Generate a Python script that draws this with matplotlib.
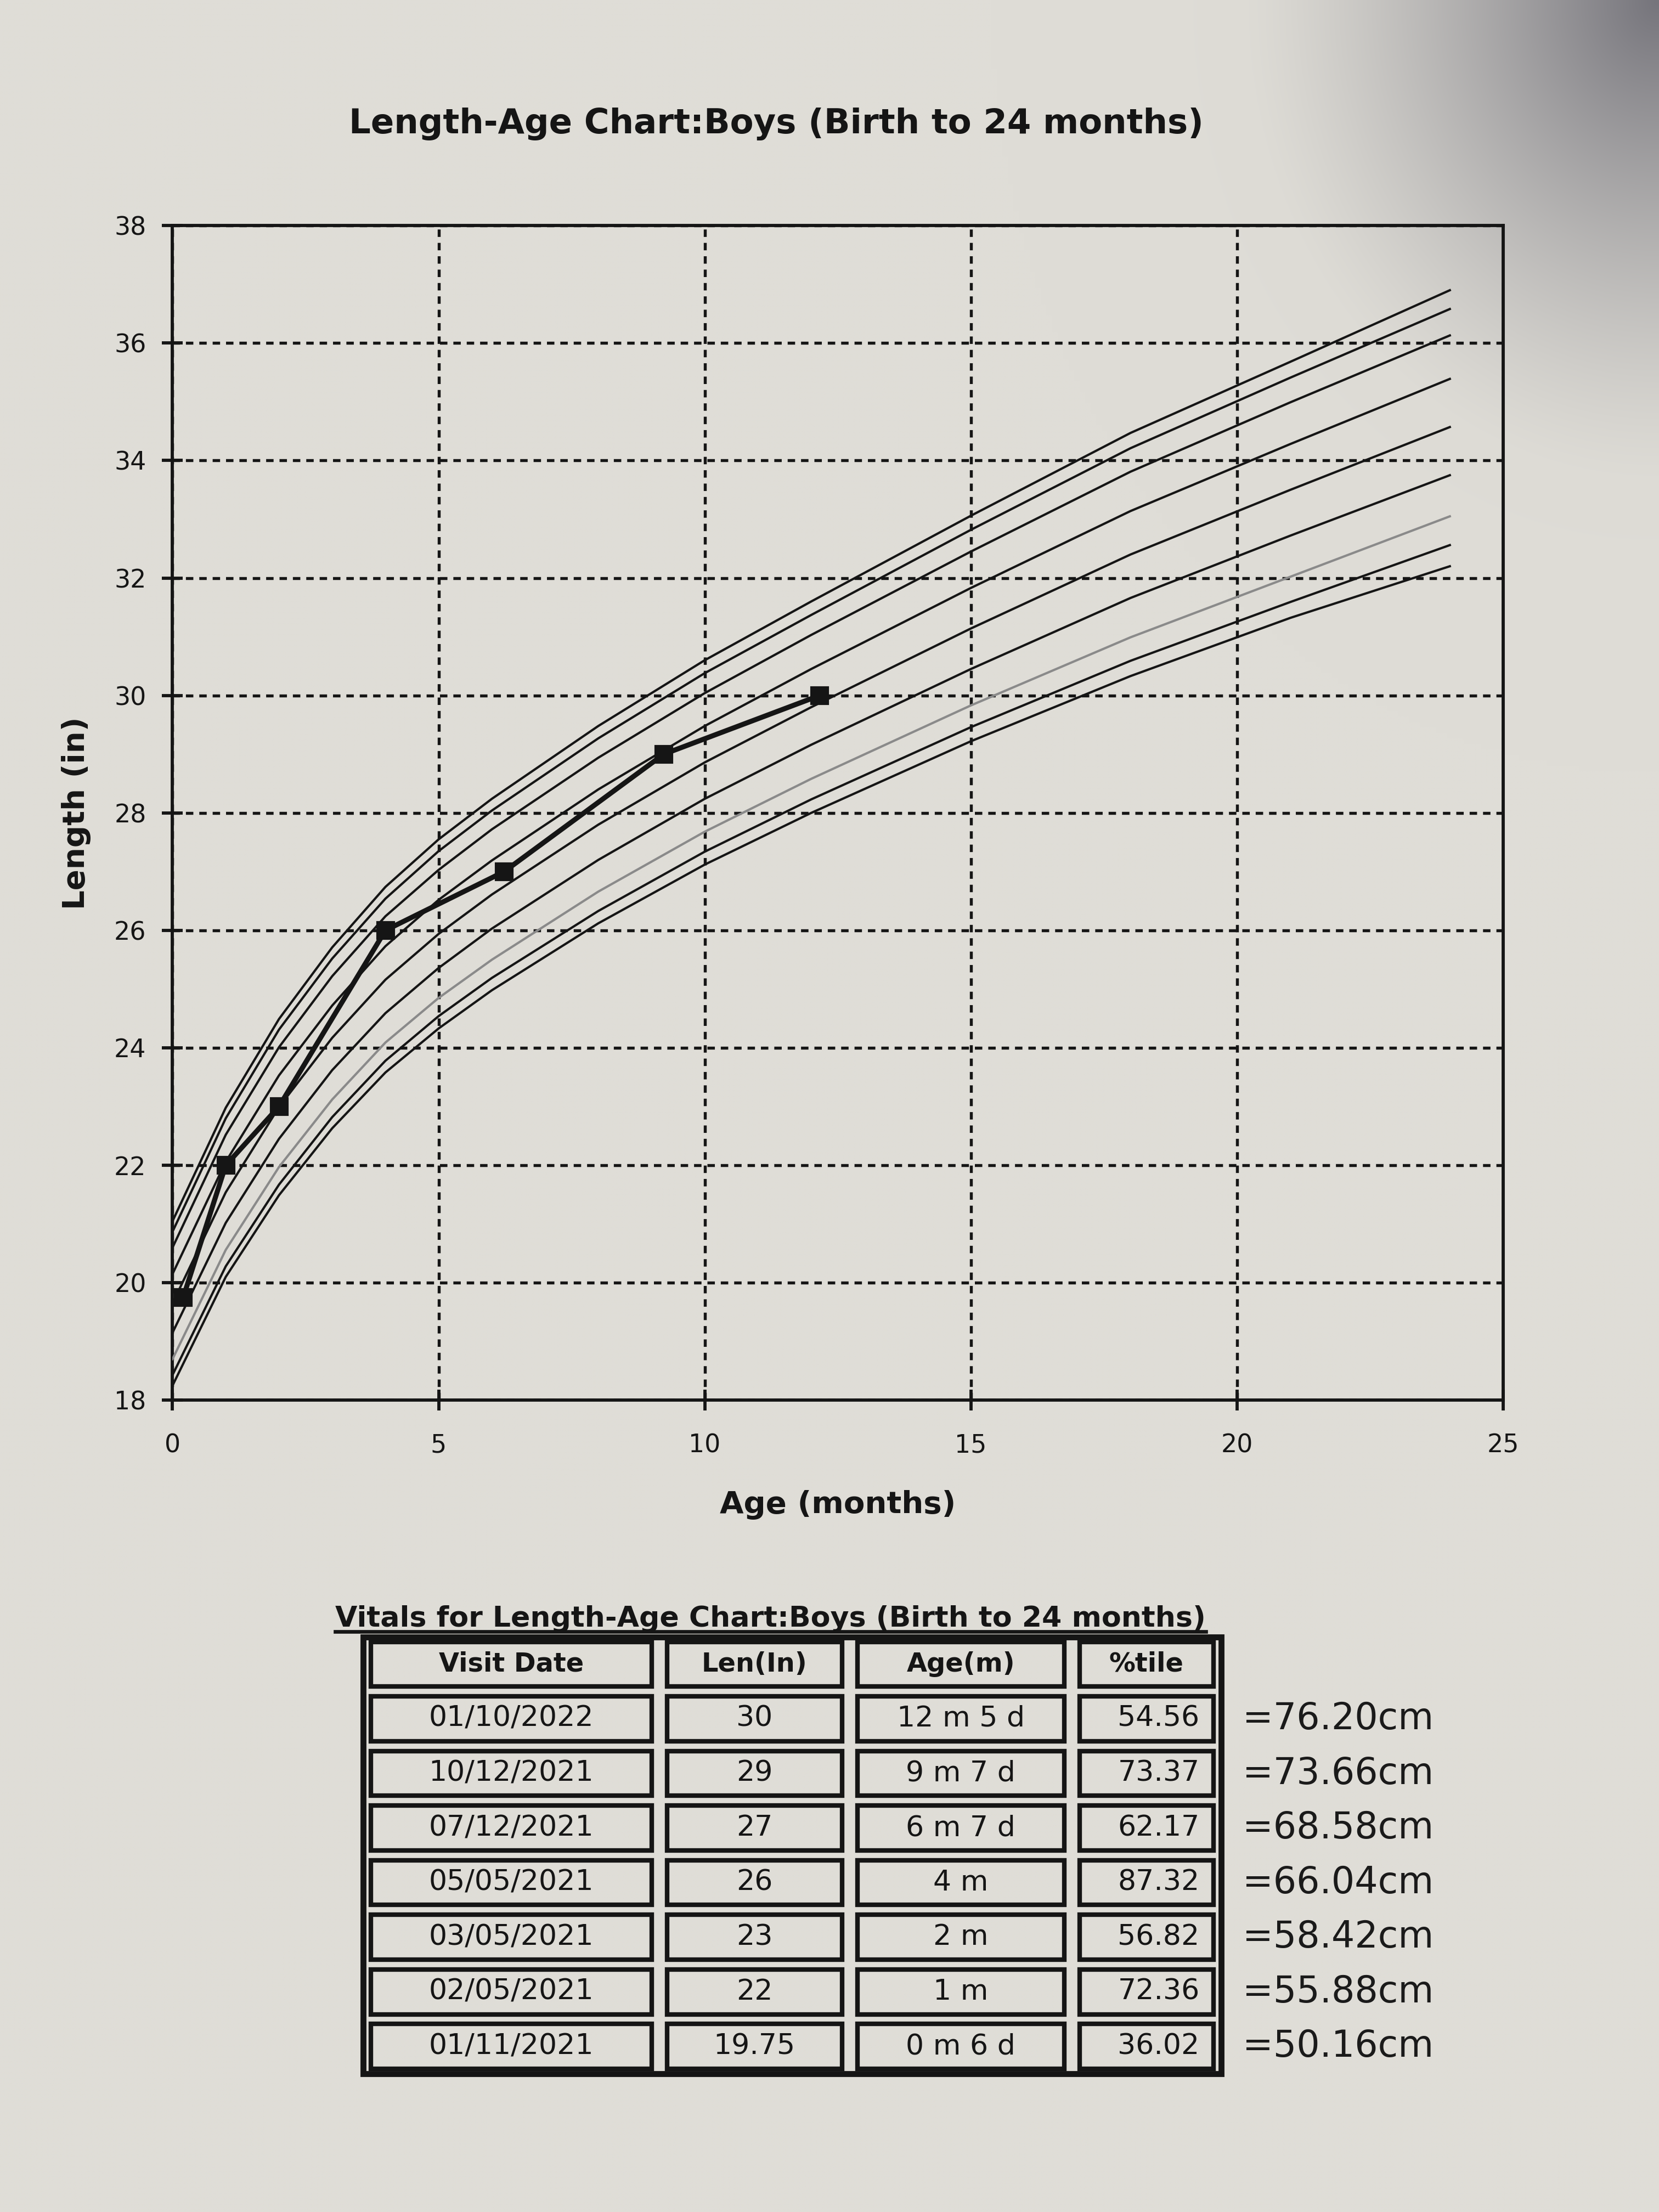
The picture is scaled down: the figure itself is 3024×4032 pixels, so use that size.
import numpy as np
import matplotlib
matplotlib.use("Agg")
import matplotlib.pyplot as plt
from matplotlib.patches import Rectangle
from matplotlib.lines import Line2D

plt.rcParams['font.family'] = ['DejaVu Sans']

# ---------------- data ----------------
title = "Length-Age Chart:Boys (Birth to 24 months)"
x_label = "Age (months)"
y_label = "Length (in)"
x_ticks = [0, 5, 10, 15, 20, 25]
y_ticks = [18, 20, 22, 24, 26, 28, 30, 32, 34, 36, 38]

# percentile reference curves (inches)
curve_ages = [0, 1, 2, 3, 4, 5, 6, 8, 10, 12, 15, 18, 21, 24]
p3  = [18.25, 20.10, 21.49, 22.63, 23.58, 24.33, 24.98, 26.12, 27.12, 28.00, 29.22, 30.33, 31.32, 32.20]
p5  = [18.43, 20.28, 21.67, 22.82, 23.78, 24.54, 25.19, 26.33, 27.34, 28.23, 29.46, 30.59, 31.59, 32.56]
p10 = [18.70, 20.56, 21.97, 23.12, 24.09, 24.85, 25.50, 26.66, 27.68, 28.58, 29.83, 30.99, 32.02, 33.05]
p25 = [19.15, 21.02, 22.45, 23.62, 24.59, 25.36, 26.03, 27.20, 28.24, 29.16, 30.45, 31.66, 32.72, 33.75]
p50 = [19.65, 21.54, 22.99, 24.17, 25.16, 25.94, 26.61, 27.80, 28.86, 29.80, 31.14, 32.40, 33.50, 34.57]
p75 = [20.15, 22.06, 23.53, 24.72, 25.73, 26.52, 27.19, 28.40, 29.48, 30.45, 31.83, 33.14, 34.28, 35.39]
p90 = [20.60, 22.52, 24.01, 25.22, 26.24, 27.03, 27.72, 28.94, 30.04, 31.03, 32.45, 33.81, 34.99, 36.13]
p95 = [20.87, 22.80, 24.31, 25.52, 26.54, 27.35, 28.04, 29.27, 30.38, 31.37, 32.82, 34.21, 35.41, 36.58]
p97 = [21.05, 22.98, 24.49, 25.71, 26.74, 27.55, 28.24, 29.48, 30.60, 31.60, 33.06, 34.47, 35.68, 36.90]

# visits (table rows, newest first)
visit_dates = ["01/10/2022", "10/12/2021", "07/12/2021", "05/05/2021",
               "03/05/2021", "02/05/2021", "01/11/2021"]
length_labels = ["30", "29", "27", "26", "23", "22", "19.75"]
lengths_in = [30, 29, 27, 26, 23, 22, 19.75]
age_labels = ["12 m 5 d", "9 m 7 d", "6 m 7 d", "4 m", "2 m", "1 m", "0 m 6 d"]
ages_months = [12.16, 9.23, 6.23, 4.0, 2.0, 1.0, 0.2]
percentile_labels = ["54.56", "73.37", "62.17", "87.32", "56.82", "72.36", "36.02"]
cm_notes = ["=76.20cm", "=73.66cm", "=68.58cm", "=66.04cm",
            "=58.42cm", "=55.88cm", "=50.16cm"]
table_title = "Vitals for Length-Age Chart:Boys (Birth to 24 months)"
table_headers = ["Visit Date", "Len(In)", "Age(m)", "%tile"]

# ---------------- figure ----------------
fig = plt.figure(figsize=(10.08, 13.44), dpi=300)

# paper background with a shadow in the top-right corner
bg = fig.add_axes([0, 0, 1, 1], zorder=-10)
h, w = 403, 302
yy, xx = np.mgrid[0:h, 0:w]
u = xx / (w - 1)
v = yy / (h - 1)
base = np.array([223, 221, 215]) / 255.0
d = np.sqrt(((1 - u) * 1.0) ** 2 + (v * 1.15) ** 2)
shade = np.clip(1 - d / 0.25, 0, 1) ** 1.3
soft = np.clip(1 - d / 0.40, 0, 1) ** 2
img = base[None, None, :] * (1 - 0.42 * shade[..., None] - 0.05 * soft[..., None])
img[..., 2] = np.clip(img[..., 2] + 0.04 * shade, 0, 1)
bg.imshow(img, extent=[0, 1, 0, 1], aspect='auto', interpolation='bilinear')
bg.set_xlim(0, 1); bg.set_ylim(0, 1)
bg.axis('off')

ink = '#151515'

fig.text(0.468, 0.944, title, ha='center', va='center', fontsize=15,
         fontweight='bold', color=ink)

ax = fig.add_axes([0.104, 0.367, 0.802, 0.531])
ax.set_facecolor('none')
ax.set_xlim(0, 25)
ax.set_ylim(18, 38)
ax.set_xticks(x_ticks)
ax.set_yticks(y_ticks)
ax.grid(True, color=ink, linestyle=(0, (2.5, 2.0)), linewidth=1.3)
for s in ax.spines.values():
    s.set_color(ink)
    s.set_linewidth(1.4)
ax.tick_params(direction='inout', length=9, width=1.4, color=ink,
               labelsize=11, labelcolor=ink)
ax.tick_params(axis='x', pad=10)
ax.tick_params(axis='y', pad=7)

curves = [p3, p5, p10, p25, p50, p75, p90, p95, p97]
curve_colors = [ink, ink, '#8a8a8a', ink, ink, ink, ink, ink, ink]
for c, col in zip(curves, curve_colors):
    ax.plot(curve_ages, c, color=col, linewidth=1.0, zorder=3)

ax.plot(ages_months, lengths_in, color=ink, linewidth=2.2, marker='s',
        markersize=7, markerfacecolor=ink, markeredgecolor=ink, zorder=5)

ax.set_xlabel(x_label, fontsize=13.5, fontweight='bold', color=ink, labelpad=14)
ax.set_ylabel(y_label, fontsize=13.5, fontweight='bold', color=ink, labelpad=10)

# ---------------- table ----------------
tx0, ty0, tw, th = 0.219, 0.0625, 0.517, 0.1975
tax = fig.add_axes([tx0, ty0, tw, th])
tax.set_xlim(0, 1)
tax.set_ylim(0, 8)
tax.axis('off')
tax.set_facecolor('none')

col_edges = [0.0, 0.345, 0.567, 0.826, 1.0]
outer = Rectangle((0, 0), 1, 8, fill=False, edgecolor=ink, linewidth=2.6,
                  clip_on=False)
tax.add_patch(outer)

rows = [table_headers] + [list(r) for r in zip(visit_dates, length_labels,
                                                age_labels, percentile_labels)]
gx, gy = 0.009, 0.09
for r, row in enumerate(rows):
    y_top = 8 - r
    for c in range(4):
        x0, x1 = col_edges[c], col_edges[c + 1]
        rect = Rectangle((x0 + gx, y_top - 1 + gy), (x1 - x0) - 2 * gx, 1 - 2 * gy,
                         fill=False, edgecolor=ink, linewidth=2.0, clip_on=False)
        tax.add_patch(rect)
        if r > 0 and c == 3:
            ha, xt = 'right', x1 - 0.025
        else:
            ha, xt = 'center', (x0 + x1) / 2
        tax.text(xt, y_top - 0.5, row[c], ha=ha, va='center',
                 fontsize=12.5 if r else 11.5,
                 fontweight='bold' if r == 0 else 'normal', color=ink)
    if r > 0:
        tax.text(1.025, y_top - 0.5, cm_notes[r - 1], ha='left', va='center',
                 fontsize=16, color='#1a1a1a', fontweight='normal',
                 transform=tax.transData, clip_on=False)

tt = fig.text(0.202, 0.268, table_title, ha='left', va='center', fontsize=12.5,
              fontweight='bold', color=ink)
fig.canvas.draw()
bb = tt.get_window_extent().transformed(fig.transFigure.inverted())
fig.add_artist(Line2D([bb.x0, bb.x1], [bb.y0 + 0.0005, bb.y0 + 0.0005],
                      transform=fig.transFigure, color=ink, linewidth=1.6))

fig.savefig("out.png", dpi=300)
